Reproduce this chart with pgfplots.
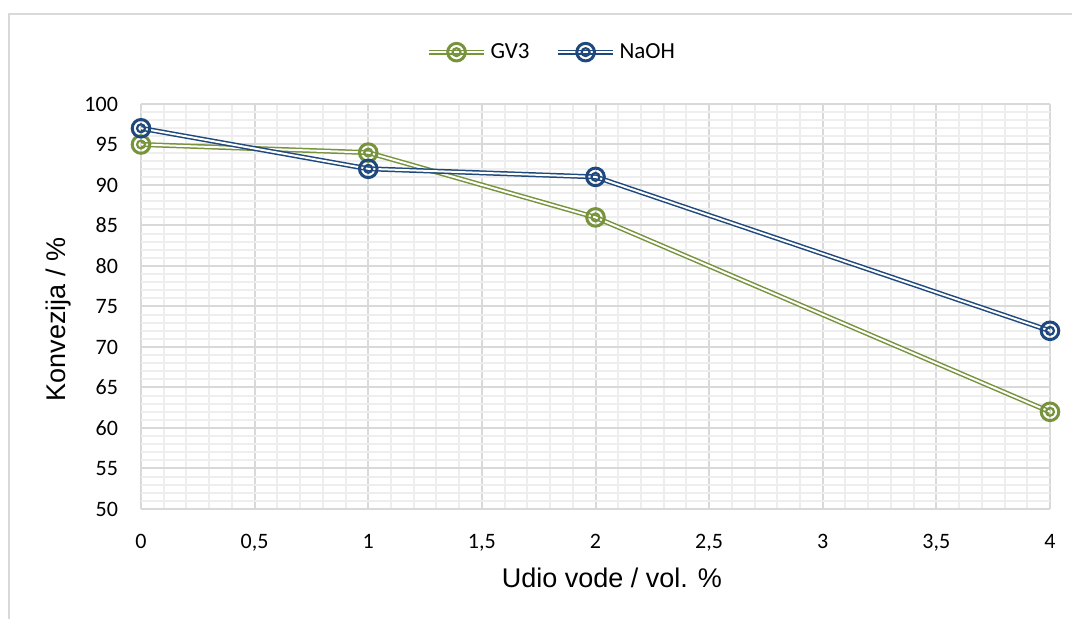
\documentclass[border=0pt]{standalone}
\usepackage{fontspec}
\setmainfont{Liberation Sans}
\newfontfamily\calibri{Carlito}
\usepackage{pgfplots}
\pgfplotsset{compat=1.18}

\definecolor{gvgreen}{RGB}{119,147,60}
\definecolor{naohblue}{RGB}{31,73,125}
\definecolor{majgrid}{RGB}{217,217,217}
\definecolor{mingrid}{RGB}{238,238,238}
\definecolor{frameline}{RGB}{217,217,217}

% ring marker: a wide outer ring with a smaller ring inside it
\pgfdeclareplotmark{ringring}{%
  \pgfsetlinewidth{1.5pt}%
  \pgfpathcircle{\pgfpointorigin}{\pgfplotmarksize}%
  \pgfusepathqstroke
  \pgfsetlinewidth{1.1pt}%
  \pgfpathcircle{\pgfpointorigin}{0.45\pgfplotmarksize}%
  \pgfusepathqstroke}

\begin{document}
\begin{tikzpicture}
\begin{axis}[
  at={(70.5pt,55pt)}, anchor=south west,
  scale only axis, width=454.5pt, height=202.5pt,
  xmin=0, xmax=4, ymin=50, ymax=100,
  xtick={0,0.5,...,4},
  xticklabels={0,{0,5},1,{1,5},2,{2,5},3,{3,5},4},
  ytick={50,55,...,100},
  minor x tick num=4, minor y tick num=4,
  grid=both,
  major grid style={draw=majgrid, line width=1pt},
  minor grid style={draw=mingrid, line width=1pt},
  axis line style={draw=none},
  tick style={draw=none},
  /pgf/number format/assume math mode=true,
  tick label style={font=\calibri\fontsize{11}{13}\selectfont},
  xticklabel style={yshift=-9pt},
  yticklabel style={xshift=-8pt},
  xlabel={Udio vode / vol. \%},
  ylabel={Konvezija / \%},
  label style={font=\fontsize{13.5}{16}\selectfont},
  xlabel style={at={(axis description cs:0.518,-0.195)}, anchor=base},
  ylabel style={at={(axis description cs:-0.083,0.468)}, anchor=base, rotate=0},
  legend columns=2,
  legend style={at={(axis description cs:0.453,1.128)}, anchor=center,
    draw=none, fill=none, font=\calibri\fontsize{11.5}{13}\selectfont,
    /tikz/every even column/.append style={column sep=11pt},
    nodes={inner xsep=2pt}},
  legend image code/.code={%
    \draw[mark repeat=2,mark phase=2]
      plot coordinates {(0pt,0pt)(13.75pt,0pt)(27.5pt,0pt)};},
  every axis plot/.append style={line width=0.75pt, double=white,
    double distance=1pt, mark=ringring, mark size=4.4pt,
    mark options={solid}},
]
\addplot[draw=gvgreen] coordinates {(0,95) (1,94) (2,86) (4,62)};
\addlegendentry{GV3}
\addplot[draw=naohblue] coordinates {(0,97) (1,92) (2,91) (4,72)};
\addlegendentry{NaOH}
\end{axis}
\draw[frameline, line width=1pt] (4.5pt,-10pt) |- (560pt,302.5pt);
\pgfresetboundingbox
\useasboundingbox (0,0) rectangle (536pt,309.5pt);
\end{tikzpicture}
\end{document}
